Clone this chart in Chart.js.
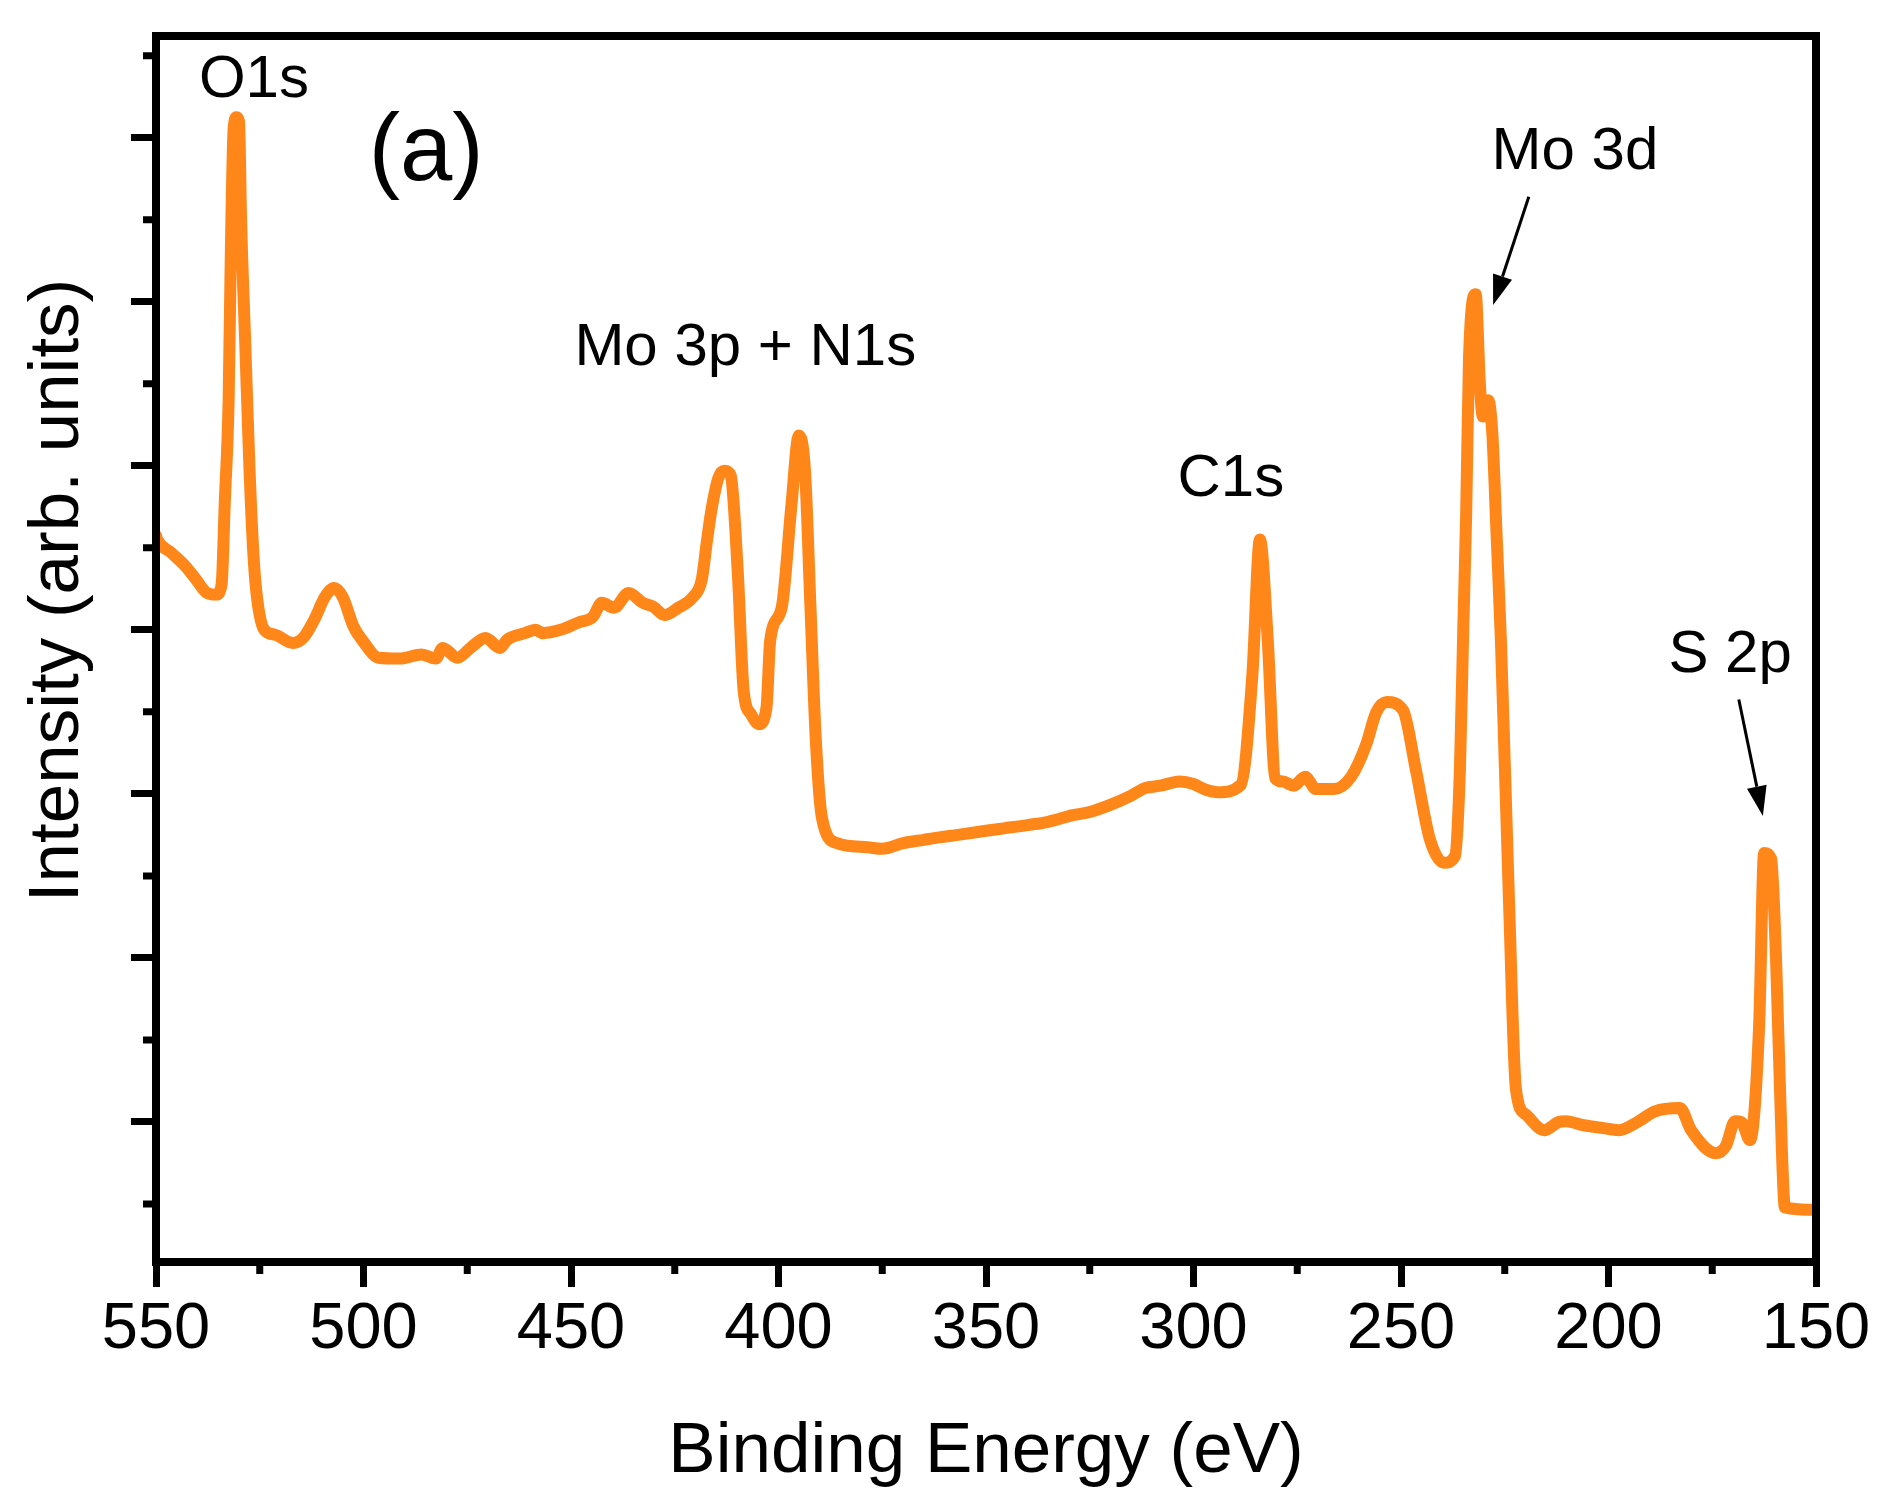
<!DOCTYPE html>
<html><head><meta charset="utf-8">
<style>html,body{margin:0;padding:0;background:#fff;}canvas{display:block;}</style>
<script src="https://cdn.jsdelivr.net/npm/chart.js@4.4.0/dist/chart.umd.min.js"></script>
</head><body>
<canvas id="c" width="1888" height="1507" style="width:1888px;height:1507px"></canvas>
<script>
// ---- data (binding energy in eV, intensity in arbitrary units) ----
const energy = [550.0,549.7,546.3,542.8,540.3,537.7,535.5,534.2,533.4,532.5,532.0,531.3,530.6,530.0,529.5,528.5,527.5,526.5,525.6,523.9,
521.3,517.0,514.4,511.9,509.3,507.1,505.0,502.4,499.8,496.4,491.2,486.0,482.6,480.9,477.4,474.0,470.6,467.1,465.4,461.1,
458.5,456.8,452.5,448.2,444.7,442.6,439.6,436.1,432.7,430.1,427.5,424.1,420.6,418.5,417.2,416.2,414.5,413.0,411.5,409.8,
408.4,406.6,404.7,402.9,402.0,399.2,396.9,395.1,393.6,392.3,391.0,389.5,385.9,378.6,375.0,369.9,365.0,361.2,356.8,350.0,
345.7,340.0,335.0,329.1,325.0,319.9,315.0,311.7,308.0,303.3,300.0,297.0,294.1,288.6,285.8,284.0,282.1,280.3,278.5,275.8,
273.1,270.5,266.1,262.0,258.4,256.0,253.4,249.5,246.4,243.0,239.6,237.0,235.8,235.0,234.3,233.6,232.0,231.0,230.3,229.0,
228.0,227.0,225.9,224.0,222.3,219.9,215.5,212.0,210.2,206.0,201.8,197.5,193.0,188.8,182.8,180.1,174.1,171.7,169.5,168.0,
165.9,163.7,162.5,160.8,159.6,158.2,157.5,150.0];
const intensity = [9.15,9.10,8.94,8.77,8.61,8.45,8.43,8.55,9.59,10.8,12.5,14.1,14.25,14.2,13.0,11.5,10.0,8.9,8.37,8.00,
7.94,7.84,7.91,8.12,8.40,8.51,8.40,8.04,7.84,7.66,7.65,7.70,7.65,7.78,7.66,7.79,7.90,7.78,7.88,7.96,
8.00,7.96,8.00,8.09,8.16,8.33,8.27,8.45,8.33,8.28,8.18,8.27,8.40,8.61,9.10,9.45,9.85,9.94,9.88,8.69,
7.26,6.97,6.85,7.05,7.87,8.28,9.51,10.37,9.93,8.28,6.65,5.70,5.40,5.35,5.33,5.40,5.44,5.47,5.50,5.55,
5.58,5.62,5.66,5.74,5.78,5.87,5.98,6.07,6.10,6.15,6.12,6.05,6.02,6.11,7.46,9.10,7.87,6.19,6.15,6.10,
6.21,6.06,6.06,6.21,6.60,6.99,7.12,7.02,6.29,5.44,5.16,5.24,6.30,8.00,9.40,11.34,12.09,11.0,10.6,10.8,
10.4,9.2,7.84,4.73,2.40,2.09,1.90,2.00,2.01,1.96,1.93,1.90,2.00,2.13,2.17,1.90,1.62,1.71,2.01,2.00,
1.78,3.18,5.28,5.21,3.95,1.62,0.96,0.93];

// ---- axes ----
const xMajorTicks = [550,500,450,400,350,300,250,200,150];
const xMinorTicks = [525,475,425,375,325,275,225,175];
const yMajorTicks = [2,4,6,8,10,12,14];
const yMinorTicks = [1,3,5,7,9,11,13,15];
const xTitle = 'Binding Energy (eV)';
const yTitle = 'Intensity (arb. units)';

// ---- annotations (in data units) ----
const peakLabels = ['O1s','Mo 3p + N1s','C1s','Mo 3d','S 2p'];
const peakLabelX = [526.4, 408.0, 291.0, 208.1, 170.7];
const peakLabelY = [14.50, 11.23, 9.63, 13.62, 7.48];
const panelLabel = '(a)';
const panelLabelX = 484.9, panelLabelY = 13.48;
const arrowFromX = [219.2, 168.6], arrowFromY = [13.28, 7.15];
const arrowToX = [227.8, 162.8], arrowToY = [11.96, 5.73];

const FONT = '"Liberation Sans", Arial, Helvetica, sans-serif';
Chart.defaults.font.family = FONT;
Chart.defaults.color = '#000';

const decor = {
  id: 'decor',
  afterDraw(chart) {
    const {ctx, chartArea: a, scales: {x, y}} = chart;
    ctx.save();
    ctx.strokeStyle = '#000';
    ctx.fillStyle = '#000';
    ctx.lineWidth = 8;
    ctx.lineJoin = 'miter';
    ctx.strokeRect(a.left, a.top, a.right - a.left, a.bottom - a.top);
    // minor ticks
    ctx.lineWidth = 7;
    ctx.lineCap = 'butt';
    ctx.beginPath();
    xMinorTicks.forEach(v => { const px = x.getPixelForValue(v); ctx.moveTo(px, a.bottom); ctx.lineTo(px, a.bottom + 12); });
    yMinorTicks.forEach(v => { const py = y.getPixelForValue(v); ctx.moveTo(a.left, py); ctx.lineTo(a.left - 13, py); });
    ctx.stroke();
    // peak labels
    ctx.textAlign = 'center';
    ctx.textBaseline = 'alphabetic';
    ctx.font = '60px ' + FONT;
    peakLabels.forEach((t, i) => ctx.fillText(t, x.getPixelForValue(peakLabelX[i]), y.getPixelForValue(peakLabelY[i])));
    ctx.font = '94px ' + FONT;
    ctx.fillText(panelLabel, x.getPixelForValue(panelLabelX), y.getPixelForValue(panelLabelY));
    // arrows
    for (let i = 0; i < arrowFromX.length; i++) {
      const x1 = x.getPixelForValue(arrowFromX[i]), y1 = y.getPixelForValue(arrowFromY[i]);
      const x2 = x.getPixelForValue(arrowToX[i]), y2 = y.getPixelForValue(arrowToY[i]);
      const ang = Math.atan2(y2 - y1, x2 - x1);
      const L = 30, W = 10;
      const bx = x2 - L * Math.cos(ang), by = y2 - L * Math.sin(ang);
      ctx.lineWidth = 3;
      ctx.beginPath(); ctx.moveTo(x1, y1); ctx.lineTo(bx, by); ctx.stroke();
      ctx.beginPath();
      ctx.moveTo(x2, y2);
      ctx.lineTo(bx + W * Math.sin(ang), by - W * Math.cos(ang));
      ctx.lineTo(bx - W * Math.sin(ang), by + W * Math.cos(ang));
      ctx.closePath(); ctx.fill();
    }
    // y-axis title
    ctx.save();
    ctx.translate(a.left - 98, y.getPixelForValue(8.48));
    ctx.rotate(-Math.PI / 2);
    ctx.font = '71px ' + FONT;
    ctx.textAlign = 'center';
    ctx.textBaseline = 'middle';
    ctx.fillText(yTitle, 0, 0);
    ctx.restore();
    ctx.restore();
  }
};

new Chart(document.getElementById('c'), {
  type: 'line',
  data: {
    datasets: [{
      data: energy.map((e, i) => ({x: e, y: intensity[i]})),
      borderColor: '#FF8619',
      borderWidth: 12,
      pointRadius: 0,
      cubicInterpolationMode: 'monotone',
      borderJoinStyle: 'round',
      borderCapStyle: 'round',
      fill: false
    }]
  },
  options: {
    responsive: false,
    animation: false,
    devicePixelRatio: 1,
    layout: {padding: {top: 36, right: 72, left: 0, bottom: 0}},
    plugins: {legend: {display: false}, tooltip: {enabled: false}},
    scales: {
      x: {
        type: 'linear', reverse: true, min: 150, max: 550,
        afterBuildTicks: s => { s.ticks = xMajorTicks.map(v => ({value: v})); },
        afterFit: s => { s.height = 245; },
        ticks: {font: {size: 65}, color: '#000', padding: 4, maxRotation: 0, autoSkip: false},
        grid: {display: true, drawOnChartArea: false, drawTicks: true, tickLength: 25, tickWidth: 7, tickColor: '#000'},
        border: {display: true, width: 8, color: '#000'},
        title: {display: true, text: xTitle, font: {size: 71}, color: '#000', padding: {top: 0, bottom: 12}}
      },
      y: {
        type: 'linear', min: 0.293, max: 15.24,
        afterBuildTicks: s => { s.ticks = yMajorTicks.map(v => ({value: v})); },
        afterFit: s => { s.width = 156; },
        ticks: {display: false},
        grid: {display: true, drawOnChartArea: false, drawTicks: true, tickLength: 25, tickWidth: 7, tickColor: '#000'},
        border: {display: true, width: 8, color: '#000'}
      }
    }
  },
  plugins: [decor]
});
</script>
</body></html>
